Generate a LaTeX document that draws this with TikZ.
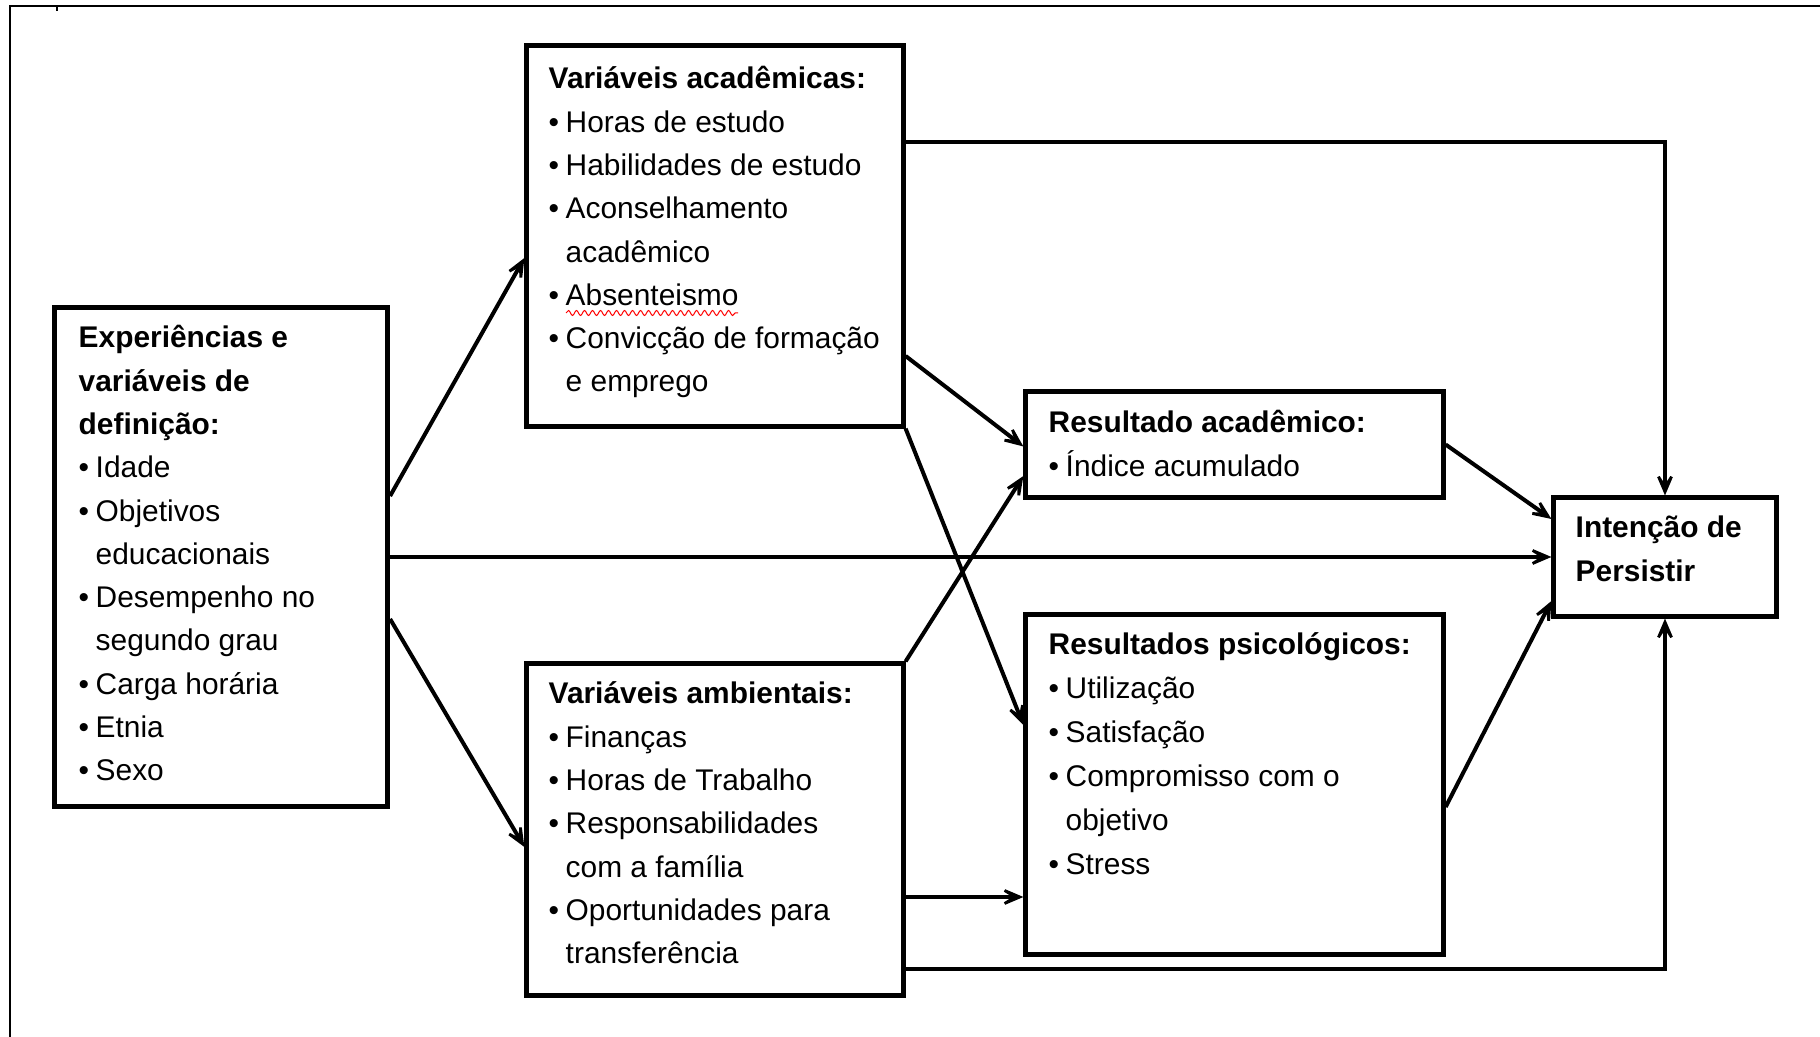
\documentclass[tikz,border=0pt]{standalone}
\usepackage{fontspec}
\setmainfont{Liberation Sans}
\usetikzlibrary{arrows.meta,calc,decorations.pathmorphing}
\tikzset{
	box/.style={draw, line width=0.5mm, inner sep=0pt, rectangle},
	txt/.style={anchor=base west, inner sep=0pt, font=\fontsize{8.5}{12.3}\selectfont},
	txtr/.style={txt, font=\fontsize{8.5}{12.5}\selectfont},
	link/.style={line width=0.4mm, -{Stealth[length=3.4mm,width=2.9mm,inset=2.3mm]}},
	frame/.style={line width=0.25mm},
	spell/.style={red, line width=0.1mm, decorate, decoration={snake, amplitude=0.25mm, segment length=0.8mm}}
}
\newcommand{\bul}{\makebox[0.57em][l]{\textbullet}}
\newcommand{\ind}{\hspace*{0.57em}}
\newcommand{\boxtext}[1]{\parbox[t]{45mm}{\raggedright #1}}

\begin{document}
\begin{tikzpicture}[x=0.01cm, y=-0.01cm]
	\useasboundingbox (0,0) rectangle (1820,1037);
	\clip (0,0) rectangle (1820,1037);
	\draw[frame] (10,1037) -- (10,6) -- (1820,6);
	\draw[line width=0.2mm] (57,6) -- (57,11);
	% boxes
	\node[box, minimum width=33.3mm, minimum height=49.9mm] (E) at (221,557) {};
	\node[box, minimum width=37.6mm, minimum height=38mm] (A) at (715,236) {};
	\node[box, minimum width=37.6mm, minimum height=33.1mm] (B) at (715,829.5) {};
	\node[box, minimum width=41.7mm, minimum height=10.5mm] (R) at (1234.5,444.5) {};
	\node[box, minimum width=41.7mm, minimum height=33.9mm] (P) at (1234.5,784.5) {};
	\node[box, minimum width=22.2mm, minimum height=11.8mm] (I) at (1665,557) {};
	% texts
	\node[txt] (Etxt) at (78,348) {\boxtext{\textbf{Experiências e}\\ \textbf{variáveis de}\\ \textbf{definição:}\\
		\bul Idade\\ \bul Objetivos\\ \ind educacionais\\ \bul Desempenho no\\ \ind segundo grau\\
		\bul Carga horária\\ \bul Etnia\\ \bul Sexo}};
	\node[txt] (Atxt) at (548,89) {\boxtext{\textbf{Variáveis acadêmicas:}\\ \bul Horas de estudo\\
		\bul Habilidades de estudo\\ \bul Aconselhamento\\ \ind acadêmico\\ \bul Absenteismo\\
		\bul Convicção de formação\\ \ind e emprego}};
	\draw[spell] (566,313) -- (738,313);
	\node[txt] (Btxt) at (548,704) {\boxtext{\textbf{Variáveis ambientais:}\\ \bul Finanças\\
		\bul Horas de Trabalho\\ \bul Responsabilidades\\ \ind com a família\\
		\bul Oportunidades para\\ \ind transferência}};
	\node[txtr] (Rtxt) at (1048,433) {\boxtext{\textbf{Resultado acadêmico:}\\ \bul Índice acumulado}};
	\node[txtr] (Ptxt) at (1048,655) {\boxtext{\textbf{Resultados psicológicos:}\\ \bul Utilização\\
		\bul Satisfação\\ \bul Compromisso com o\\ \ind objetivo\\ \bul Stress}};
	\node[txt] (Itxt) at (1575,538) {\boxtext{\textbf{Intenção de}\\ \textbf{Persistir}}};
	% connectors
	\draw[link] ($(E.east)+(0,-61)$) -- ($(A.west)+(0,22)$);
	\draw[link] ($(E.east)+(0,62)$) -- ($(B.west)+(0,17.5)$);
	\draw[link] (E.east) -- (I.west);
	\draw[link] ($(A.east)+(0,-94)$) -| (I.north);
	\draw[link] ($(A.east)+(0,120)$) -- ($(R.west)+(0,2)$);
	\draw[link] (A.south east) -- ($(P.west)+(0,-59.5)$);
	\draw[link] (B.north east) -- ($(R.west)+(0,31.5)$);
	\draw[link] ($(B.east)+(0,67.5)$) -- ($(P.west)+(0,112.5)$);
	\draw[link] ($(B.east)+(0,139.5)$) -| (I.south);
	\draw[link] (R.east) -- ($(I.west)+(0,-38)$);
	\draw[link] ($(P.east)+(0,22.5)$) -- ($(I.west)+(0,44)$);
\end{tikzpicture}
\end{document}
